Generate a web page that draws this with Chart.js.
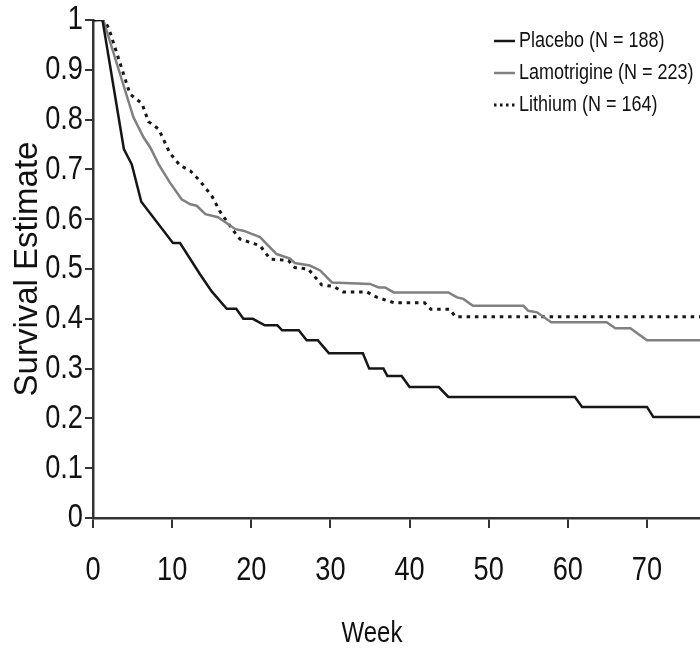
<!DOCTYPE html>
<html>
<head>
<meta charset="utf-8">
<script src="https://cdn.jsdelivr.net/npm/chart.js@4.4.1/dist/chart.umd.min.js"></script>
<style>
  html, body { margin: 0; padding: 0; background: #fff; }
  #wrap { width: 700px; height: 648px; position: relative; }
</style>
</head>
<body>
<div id="wrap"><canvas id="chart"></canvas></div>
<script>
// Kaplan-Meier style curves
const seriesNames = ["Placebo (N = 188)", "Lamotrigine (N = 223)", "Lithium (N = 164)"];
const xTitle = "Week";
const yTitle = "Survival Estimate";

const placeboWeeks = [0, 1.2, 3.9, 4.9, 6.1, 10.1, 11.0, 13.5, 15.0, 16.9, 18.1, 19.0, 20.2, 21.7, 23.3, 23.9, 26.0, 27.0, 28.4, 29.8, 34.1, 34.9, 36.7, 37.2, 39.0, 40.0, 43.7, 44.9, 60.9, 61.8, 70.0, 70.8, 76.7];
const placeboSurv = [1, 1, 0.741, 0.71, 0.635, 0.552, 0.552, 0.49, 0.455, 0.42, 0.42, 0.40, 0.40, 0.387, 0.387, 0.377, 0.377, 0.357, 0.357, 0.331, 0.331, 0.30, 0.30, 0.285, 0.285, 0.263, 0.263, 0.243, 0.243, 0.223, 0.223, 0.203, 0.203];

const lamoWeeks = [0, 1.3, 5.1, 6.4, 7.2, 8.3, 9.7, 11.2, 12.3, 13.1, 14.2, 15.8, 18.0, 19.0, 21.1, 23.2, 24.9, 25.5, 27.4, 28.7, 30.2, 35.0, 36.1, 36.9, 38.0, 44.9, 46.0, 46.8, 48.0, 54.4, 55.0, 56.1, 57.9, 64.9, 66.0, 67.9, 70.0, 76.7];
const lamoSurv = [1, 1, 0.805, 0.764, 0.745, 0.71, 0.674, 0.64, 0.63, 0.627, 0.61, 0.604, 0.58, 0.577, 0.564, 0.53, 0.521, 0.512, 0.507, 0.497, 0.473, 0.47, 0.463, 0.463, 0.453, 0.453, 0.443, 0.44, 0.426, 0.426, 0.416, 0.413, 0.393, 0.393, 0.381, 0.381, 0.357, 0.357];

const lithiumWeeks = [0, 1.5, 2.1, 4.5, 4.7, 6.2, 7.0, 8.3, 9.7, 11.0, 12.3, 13.5, 15.0, 16.1, 18.2, 18.6, 21.1, 22.4, 24.7, 25.5, 27.2, 28.9, 30.4, 31.6, 34.6, 35.9, 38.1, 41.9, 42.7, 45.1, 45.8, 76.7];
const lithiumSurv = [1, 1, 0.978, 0.86, 0.851, 0.832, 0.796, 0.781, 0.733, 0.708, 0.697, 0.677, 0.647, 0.614, 0.567, 0.56, 0.547, 0.52, 0.517, 0.503, 0.50, 0.468, 0.465, 0.454, 0.454, 0.443, 0.432, 0.432, 0.419, 0.419, 0.404, 0.404];

const weekMax = 76.7;

const FONT = "'Liberation Sans', Arial, Helvetica, sans-serif";

function toPoints(xs, ys) {
    return xs.map((x, i) => ({ x: x, y: ys[i] }));
}

// the original uses a condensed face; squeeze horizontal text a bit
function condenseText(context, factor) {
    const fill = context.fillText.bind(context);
    context.fillText = function(text, x, y) {
        const m = context.getTransform();
        if (m.b !== 0 || m.c !== 0) {
            fill(text, x, y);
            return;
        }
        context.save();
        context.translate(x, y);
        context.scale(factor, 1);
        fill(text, 0, 0);
        context.restore();
    };
}

// legend at the top right inside the plot, plus the x title (off centre in the original)
const extras = {
    id: "extras",
    afterDraw(chart, args, opts) {
        const ctx = chart.ctx;
        ctx.save();
        ctx.fillStyle = "#111";
        ctx.textBaseline = "middle";

        ctx.font = opts.titleSize + "px " + FONT;
        ctx.textAlign = "center";
        ctx.fillText(xTitle, opts.titleX, opts.titleY);

        ctx.font = opts.size + "px " + FONT;
        ctx.textAlign = "left";
        chart.data.datasets.forEach((ds, i) => {
            const y = opts.top + i * opts.rowGap;
            ctx.beginPath();
            ctx.strokeStyle = ds.borderColor;
            ctx.lineWidth = ds.borderWidth;
            ctx.setLineDash(ds.borderDash ? [2.5, 3.5] : []);
            ctx.moveTo(opts.left, y);
            ctx.lineTo(opts.left + opts.lineLen, y);
            ctx.stroke();
            ctx.setLineDash([]);
            ctx.fillText(ds.label, opts.left + opts.lineLen + opts.gap, y);
        });
        ctx.restore();
    }
};

const canvas = document.getElementById("chart");
condenseText(canvas.getContext("2d"), 0.8);

new Chart(canvas, {
    type: "line",
    data: {
        datasets: [
            {
                label: seriesNames[0],
                data: toPoints(placeboWeeks, placeboSurv),
                borderColor: "#161616",
                borderWidth: 2.5
            },
            {
                label: seriesNames[1],
                data: toPoints(lamoWeeks, lamoSurv),
                borderColor: "#808080",
                borderWidth: 2.5
            },
            {
                label: seriesNames[2],
                data: toPoints(lithiumWeeks, lithiumSurv),
                borderColor: "#161616",
                borderWidth: 3,
                borderDash: [3.5, 4.8]
            }
        ]
    },
    options: {
        responsive: true,
        maintainAspectRatio: false,
        animation: false,
        parsing: false,
        elements: {
            point: { radius: 0 },
            line: { tension: 0, borderCapStyle: "butt" }
        },
        layout: { padding: { top: 20, right: 0, left: 0, bottom: 0 } },
        plugins: {
            legend: { display: false },
            tooltip: { enabled: false },
            extras: { left: 494, top: 41, rowGap: 32, lineLen: 21, gap: 4, size: 22.5, titleSize: 30, titleX: 372, titleY: 634 }
        },
        scales: {
            x: {
                type: "linear",
                min: 0,
                max: weekMax,
                border: { display: true, color: "#333", width: 2.5 },
                grid: { drawOnChartArea: false, drawTicks: true, tickLength: 10, color: "#333", lineWidth: 2 },
                ticks: {
                    stepSize: 10,
                    includeBounds: false,
                    padding: 22,
                    color: "#111",
                    font: { family: FONT, size: 34 },
                    maxRotation: 0,
                    callback: v => v
                },
                afterFit(scale) {
                    scale.height = 130;
                    scale.paddingLeft = 0;
                    scale.paddingRight = 0;
                }
            },
            y: {
                min: 0,
                max: 1,
                border: { display: true, color: "#333", width: 2.5 },
                grid: { drawOnChartArea: false, drawTicks: true, tickLength: 8, color: "#333", lineWidth: 2 },
                ticks: {
                    stepSize: 0.1,
                    padding: 2,
                    color: "#111",
                    font: { family: FONT, size: 34 },
                    callback: v => String(Math.round(v * 10) / 10)
                },
                title: {
                    display: true,
                    text: yTitle,
                    color: "#111",
                    font: { family: FONT, size: 33 },
                    padding: { top: 8, bottom: 0 }
                },
                afterFit(scale) {
                    scale.width = 93;
                    scale.paddingTop = 0;
                    scale.paddingBottom = 0;
                }
            }
        }
    },
    plugins: [extras]
});
</script>
</body>
</html>
